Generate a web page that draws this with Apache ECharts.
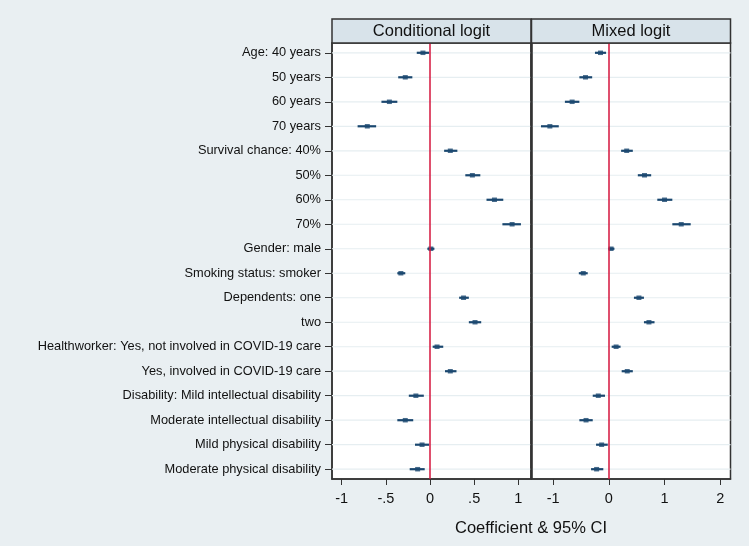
<!DOCTYPE html>
<html>
<head>
<meta charset="utf-8">
<script src="https://cdn.jsdelivr.net/npm/echarts@6/dist/echarts.min.js"></script>
<style>
html,body{margin:0;padding:0;background:#e9eff2;}
#chart{width:749px;height:546px;}
</style>
</head>
<body>
<div id="chart"></div>
<script>
const categories = [
  "Age: 40 years", "50 years", "60 years", "70 years",
  "Survival chance: 40%", "50%", "60%", "70%",
  "Gender: male", "Smoking status: smoker",
  "Dependents: one", "two",
  "Healthworker: Yes, not involved in COVID-19 care", "Yes, involved in COVID-19 care",
  "Disability: Mild intellectual disability", "Moderate intellectual disability",
  "Mild physical disability", "Moderate physical disability"
];
const panelTitles = ["Conditional logit", "Mixed logit"];

const clCoef = [-0.08, -0.28, -0.46, -0.71, 0.23, 0.48, 0.73, 0.93, 0.01, -0.33, 0.38, 0.51, 0.08, 0.23, -0.16, -0.28, -0.09, -0.14];
const clLo   = [-0.15, -0.36, -0.55, -0.82, 0.16, 0.40, 0.64, 0.82, -0.03, -0.37, 0.33, 0.44, 0.03, 0.17, -0.24, -0.37, -0.17, -0.23];
const clHi   = [-0.01, -0.20, -0.37, -0.61, 0.31, 0.57, 0.83, 1.03, 0.05, -0.28, 0.44, 0.58, 0.15, 0.30, -0.07, -0.19, -0.01, -0.06];

const mlCoef = [-0.15, -0.42, -0.66, -1.06, 0.32, 0.64, 1.00, 1.30, 0.04, -0.46, 0.54, 0.72, 0.13, 0.33, -0.19, -0.41, -0.13, -0.22];
const mlLo   = [-0.25, -0.53, -0.79, -1.22, 0.22, 0.52, 0.87, 1.14, -0.01, -0.54, 0.45, 0.63, 0.05, 0.23, -0.29, -0.53, -0.23, -0.32];
const mlHi   = [-0.05, -0.30, -0.53, -0.90, 0.43, 0.76, 1.14, 1.47, 0.10, -0.38, 0.63, 0.82, 0.21, 0.43, -0.07, -0.29, -0.02, -0.10];

const leftTicks = [-1, -0.5, 0, 0.5, 1];
const rightTicks = [-1, 0, 1, 2];
const rows = categories.map((c, i) => i + 1);

const navy = '#1a476f';
const frame = '#333333';
const gridColor = '#e6eef1';
const font = 'Liberation Sans, Arial, sans-serif';

function fmt(v) {
  let s = String(v);
  if (s.startsWith('0.')) s = s.slice(1);
  if (s.startsWith('-0.')) s = '-' + s.slice(2);
  return s;
}

function gridLineSeries(idx) {
  return {
    type: 'custom', xAxisIndex: idx, yAxisIndex: idx, silent: true, z: 1,
    data: rows.map(r => [0, r]),
    renderItem: function (params, api) {
      const p = api.coord([0, api.value(1)]);
      const cs = params.coordSys;
      return { type: 'line', shape: { x1: cs.x, y1: p[1], x2: cs.x + cs.width, y2: p[1] },
        style: { stroke: gridColor, lineWidth: 1.2 } };
    }
  };
}
function barSeries(idx, lo, hi) {
  return {
    type: 'custom', xAxisIndex: idx, yAxisIndex: idx, silent: true, z: 3,
    data: rows.map((r, i) => [lo[i], hi[i], r]),
    renderItem: function (params, api) {
      const a = api.coord([api.value(0), api.value(2)]);
      const b = api.coord([api.value(1), api.value(2)]);
      return { type: 'line', shape: { x1: a[0], y1: a[1], x2: b[0], y2: b[1] },
        style: { stroke: navy, lineWidth: 2.2 } };
    }
  };
}
function pointSeries(idx, coef) {
  return {
    type: 'scatter', xAxisIndex: idx, yAxisIndex: idx, silent: true, z: 4,
    symbol: 'rect', symbolSize: [5, 4.5],
    itemStyle: { color: navy },
    data: rows.map((r, i) => [coef[i], r]),
    markLine: {
      silent: true, symbol: 'none', label: { show: false },
      lineStyle: { color: '#d4143c', width: 1.5, type: 'solid' },
      data: [{ xAxis: 0 }],
      animation: false
    }
  };
}

const chart = echarts.init(document.getElementById('chart'), null, { renderer: 'canvas' });
chart.setOption({
  animation: false,
  backgroundColor: '#e9eff2',
  textStyle: { fontFamily: font },
  grid: [
    { left: 332, top: 43, width: 199, height: 436, show: true, backgroundColor: '#ffffff', borderColor: frame, borderWidth: 1.5 },
    { left: 531.5, top: 43, width: 199, height: 436, show: true, backgroundColor: '#ffffff', borderColor: frame, borderWidth: 1.5 }
  ],
  xAxis: [
    { type: 'value', gridIndex: 0, min: -1.11, max: 1.144,
      axisLine: { show: true, onZero: false, lineStyle: { color: frame, width: 1.5 } },
      splitLine: { show: false },
      axisTick: { show: true, length: 6, customValues: leftTicks, lineStyle: { color: frame } },
      axisLabel: { customValues: leftTicks, formatter: fmt, fontSize: 14.5, color: '#111', margin: 12 } },
    { type: 'value', gridIndex: 1, min: -1.39, max: 2.185,
      axisLine: { show: true, onZero: false, lineStyle: { color: frame, width: 1.5 } },
      splitLine: { show: false },
      axisTick: { show: true, length: 6, customValues: rightTicks, lineStyle: { color: frame } },
      axisLabel: { customValues: rightTicks, formatter: fmt, fontSize: 14.5, color: '#111', margin: 12 } }
  ],
  yAxis: [
    { type: 'value', gridIndex: 0, min: 0.6, max: 18.4, inverse: true,
      axisLine: { show: true, onZero: false, lineStyle: { color: frame, width: 1.5 } },
      axisTick: { show: true, length: 7, customValues: rows, lineStyle: { color: frame } },
      axisLabel: { customValues: rows, formatter: v => categories[Math.round(v) - 1] || '', fontSize: 12.8, color: '#111', margin: 11 },
      splitLine: { show: false } },
    { type: 'value', gridIndex: 1, min: 0.6, max: 18.4, inverse: true,
      axisLine: { show: false, onZero: false }, axisTick: { show: false }, axisLabel: { show: false }, splitLine: { show: false } }
  ],
  graphic: [
    { type: 'rect', shape: { x: 332, y: 19, width: 199, height: 24 }, style: { fill: '#d8e3ea', stroke: frame, lineWidth: 1.5 }, z: 10 },
    { type: 'rect', shape: { x: 531.5, y: 19, width: 199, height: 24 }, style: { fill: '#d8e3ea', stroke: frame, lineWidth: 1.5 }, z: 10 },
    { type: 'text', x: 431.5, y: 31, style: { text: panelTitles[0], fontSize: 16.5, fill: '#111', align: 'center', verticalAlign: 'middle', fontFamily: font }, z: 11 },
    { type: 'text', x: 631, y: 31, style: { text: panelTitles[1], fontSize: 16.5, fill: '#111', align: 'center', verticalAlign: 'middle', fontFamily: font }, z: 11 },
    { type: 'text', x: 531, y: 528, style: { text: 'Coefficient & 95% CI', fontSize: 16.5, fill: '#111', align: 'center', verticalAlign: 'middle', fontFamily: font }, z: 11 },
    { type: 'line', shape: { x1: 531.5, y1: 43, x2: 531.5, y2: 479 }, style: { stroke: frame, lineWidth: 2.5 }, z: 12 }
  ],
  series: [
    gridLineSeries(0), gridLineSeries(1),
    barSeries(0, clLo, clHi), barSeries(1, mlLo, mlHi),
    pointSeries(0, clCoef), pointSeries(1, mlCoef)
  ]
});
</script>
</body>
</html>
